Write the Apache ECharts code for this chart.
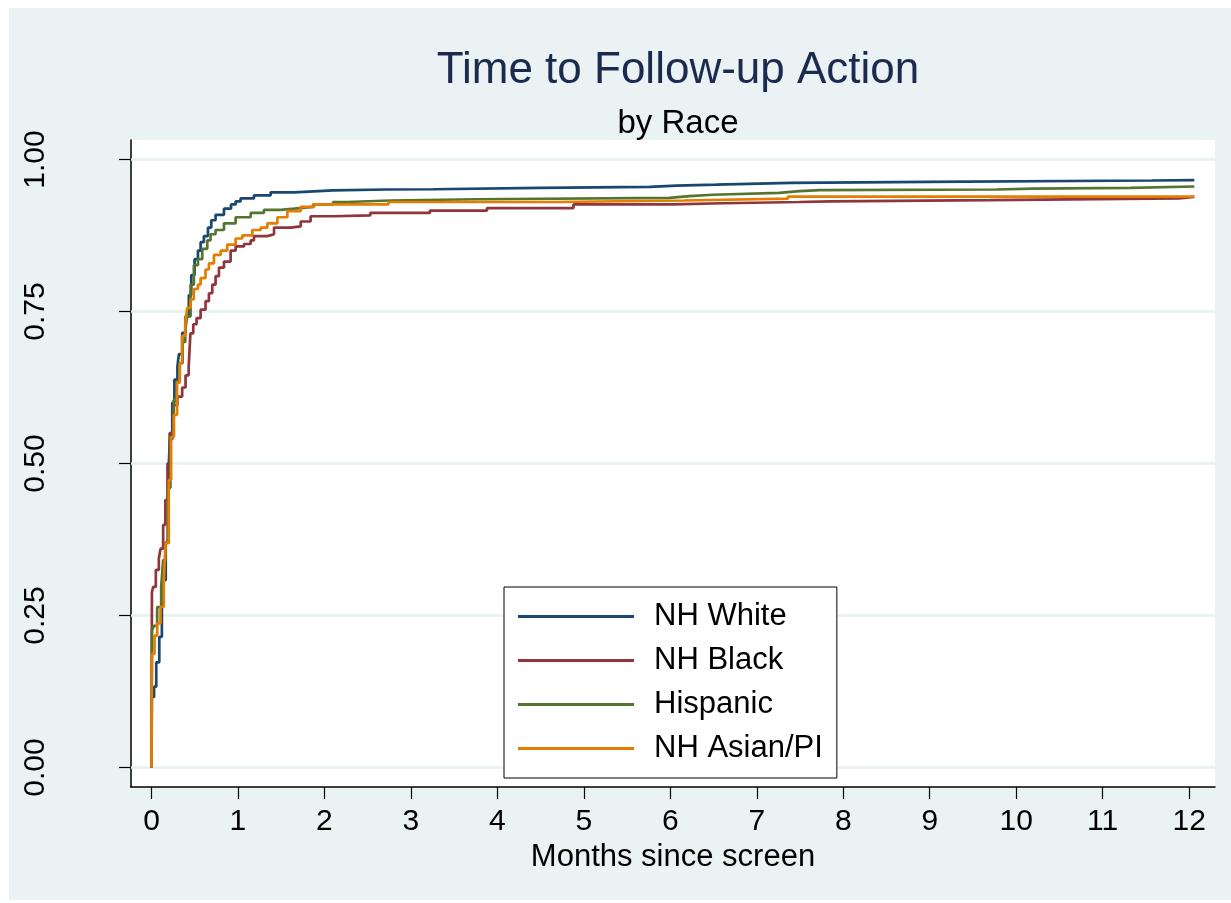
<!DOCTYPE html>
<html>
<head>
<meta charset="utf-8">
<script src="https://cdn.jsdelivr.net/npm/echarts@6/dist/echarts.min.js"></script>
<style>
html,body{margin:0;padding:0;background:#fff;}
#chart{width:1231px;height:903px;}
</style>
</head>
<body>
<div id="chart"></div>
<script>
// ---- Data ----
const titleText = 'Time to Follow-up Action';
const subtitleText = 'by Race';
const xAxisName = 'Months since screen';
const seriesNames = ['NH White', 'NH Black', 'Hispanic', 'NH Asian/PI'];
const xTicks = [0,1,2,3,4,5,6,7,8,9,10,11,12];
const yTicks = [0, 0.25, 0.5, 0.75, 1];

// Kaplan-Meier style failure curves: [months, cumulative proportion]
const nhWhite = [
  [0,0],[0.005,0.116],[0.03,0.133],[0.055,0.173],[0.09,0.215],[0.12,0.27],[0.14,0.308],
  [0.165,0.37],[0.19,0.46],[0.212,0.54],[0.24,0.60],[0.265,0.638],[0.3,0.66],[0.317,0.68],
  [0.355,0.715],[0.394,0.742],[0.432,0.777],[0.46,0.81],[0.498,0.836],[0.537,0.85],
  [0.568,0.864],[0.606,0.874],[0.653,0.888],[0.691,0.90],[0.741,0.909],[0.838,0.919],
  [0.92,0.926],[0.973,0.931],[1.03,0.936],[1.185,0.941],[1.378,0.946],[1.649,0.949],
  [2.1,0.9506],[2.72,0.951],[3.26,0.9533],[4.49,0.955],[5.76,0.957],[6.07,0.9585],
  [6.53,0.9616],[7.4,0.963],[8.98,0.9654],[11.57,0.966],[12.06,0.966]
];
const nhBlack = [
  [0,0],[0.005,0.289],[0.02,0.297],[0.05,0.325],[0.085,0.344],[0.105,0.36],[0.135,0.399],
  [0.16,0.44],[0.185,0.50],[0.21,0.55],[0.25,0.596],[0.3,0.61],[0.355,0.625],[0.394,0.645],
  [0.43,0.659],[0.45,0.714],[0.483,0.729],[0.521,0.739],[0.568,0.753],[0.625,0.767],
  [0.664,0.78],[0.703,0.794],[0.741,0.808],[0.78,0.822],[0.838,0.832],[0.915,0.85],
  [0.973,0.857],[1.07,0.861],[1.147,0.867],[1.185,0.874],[1.34,0.877],[1.417,0.888],
  [1.61,0.89],[1.726,0.898],[1.84,0.9066],[2.1,0.908],[2.53,0.912],[3.22,0.916],
  [3.88,0.920],[4.88,0.926],[6.03,0.928],[6.61,0.930],[7.49,0.931],[7.86,0.933],
  [9.69,0.936],[11.88,0.9385],[12.06,0.9385]
];
const hispanic = [
  [0,0],[0.005,0.226],[0.027,0.233],[0.066,0.264],[0.112,0.297],[0.135,0.341],[0.162,0.37],
  [0.189,0.46],[0.219,0.544],[0.258,0.605],[0.289,0.635],[0.327,0.665],[0.36,0.70],
  [0.39,0.72],[0.413,0.742],[0.452,0.794],[0.49,0.826],[0.537,0.836],[0.587,0.853],
  [0.645,0.867],[0.683,0.877],[0.741,0.884],[0.838,0.895],[0.973,0.905],[1.147,0.912],
  [1.3,0.917],[1.494,0.919],[1.65,0.922],[1.87,0.926],[2.1,0.930],[2.26,0.9325],
  [2.76,0.9346],[3.76,0.9368],[5.99,0.9396],[6.22,0.942],[6.49,0.945],[7.26,0.948],
  [7.49,0.9495],[7.73,0.9506],[9.77,0.952],[10.19,0.9533],[11.32,0.9555],[12.06,0.9555]
];
const nhAsianPI = [
  [0,0],[0.005,0.187],[0.035,0.217],[0.066,0.237],[0.104,0.264],[0.142,0.303],[0.162,0.369],
  [0.2,0.473],[0.227,0.544],[0.258,0.58],[0.296,0.633],[0.327,0.665],[0.354,0.71],
  [0.39,0.73],[0.413,0.756],[0.452,0.77],[0.49,0.787],[0.537,0.794],[0.568,0.805],
  [0.625,0.819],[0.664,0.829],[0.722,0.843],[0.8,0.85],[0.876,0.86],[0.973,0.87],
  [1.05,0.875],[1.166,0.884],[1.263,0.888],[1.34,0.895],[1.456,0.905],[1.571,0.915],
  [1.726,0.922],[1.88,0.926],[2.24,0.926],[2.74,0.930],[4.68,0.9325],[6.15,0.9357],
  [7.36,0.939],[12.06,0.939]
];
const seriesData = [nhWhite, nhBlack, hispanic, nhAsianPI];
const seriesColors = ['#1a476f', '#90353b', '#55752f', '#e37e00'];

// ---- Chart ----
const chart = echarts.init(document.getElementById('chart'), null, {renderer: 'canvas'});
const font = 'Liberation Sans, Arial, sans-serif';

const series = seriesNames.map((name, i) => ({
  name: name,
  type: 'line',
  step: 'end',
  data: seriesData[i],
  symbol: 'none',
  z: 3,
  lineStyle: {color: seriesColors[i], width: 2.7},
  itemStyle: {color: seriesColors[i]}
}));
// horizontal grid lines at the y tick values
series.push({
  name: 'grid',
  type: 'line',
  data: [],
  silent: true,
  z: 1,
  markLine: {
    z: 1,
    silent: true,
    symbol: 'none',
    label: {show: false},
    lineStyle: {color: '#e7eff1', width: 2.5, type: 'solid'},
    data: yTicks.map(v => ({yAxis: v}))
  }
});

chart.setOption({
  animation: false,
  backgroundColor: '#ffffff',
  graphic: [{
    type: 'rect', z: -10, silent: true,
    shape: {x: 9, y: 8, width: 1222, height: 892},
    style: {fill: '#eaf2f3'}
  }],
  title: [
    {text: titleText, left: 673, top: 44, textAlign: 'center',
     textStyle: {fontFamily: font, fontSize: 44, fontWeight: 'normal', color: '#1c2a4f', lineHeight: 44}},
    {text: subtitleText, left: 673, top: 102, textAlign: 'center',
     textStyle: {fontFamily: font, fontSize: 33, fontWeight: 'normal', color: '#000', lineHeight: 33}}
  ],
  legend: {
    data: seriesNames,
    orient: 'vertical',
    left: 504, top: 587,
    padding: [14, 14, 14, 14],
    itemWidth: 116, itemHeight: 3, itemGap: 13,
    icon: 'rect',
    backgroundColor: '#fff',
    borderColor: '#000', borderWidth: 1, borderRadius: 0,
    textStyle: {fontFamily: font, fontSize: 31, lineHeight: 31, color: '#000', padding: [0, 0, 0, 15]}
  },
  grid: {
    left: 131, top: 140, right: 16, bottom: 116,
    show: true, backgroundColor: '#ffffff', borderWidth: 0,
    containLabel: false
  },
  xAxis: {
    type: 'value',
    min: -0.237, max: 12.299,
    name: xAxisName, nameLocation: 'middle', nameGap: 50,
    nameTextStyle: {fontFamily: font, fontSize: 31, color: '#000'},
    axisLine: {show: true, onZero: false, lineStyle: {color: '#000', width: 1.5}},
    axisTick: {show: true, length: 12, lineStyle: {color: '#000', width: 1.2}, customValues: xTicks},
    axisLabel: {fontFamily: font, fontSize: 30, color: '#000', margin: 20, customValues: xTicks,
                formatter: v => String(v)},
    splitLine: {show: false}
  },
  yAxis: {
    type: 'value',
    min: -0.032, max: 1.032,
    axisLine: {show: true, onZero: false, lineStyle: {color: '#000', width: 1.5}},
    axisTick: {show: true, length: 12, lineStyle: {color: '#000', width: 1.2}, customValues: yTicks},
    axisLabel: {fontFamily: font, fontSize: 30, color: '#000', margin: 80, rotate: 90, customValues: yTicks,
                formatter: v => v.toFixed(2)},
    splitLine: {show: false}
  },
  series: series
});
</script>
</body>
</html>
